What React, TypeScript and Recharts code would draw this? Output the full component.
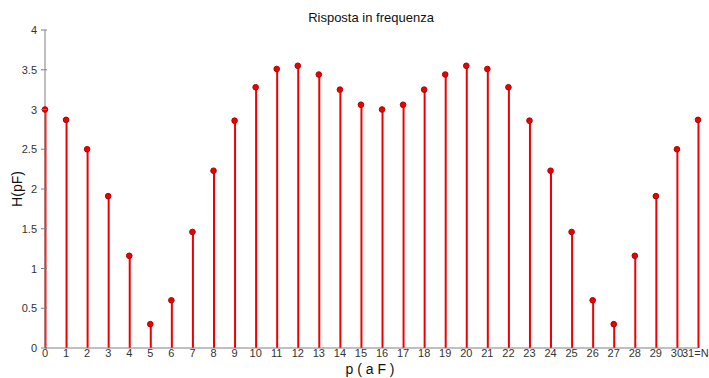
import { ComposedChart, Bar, Line, XAxis, YAxis } from "recharts";

const indices = [
  0, 1, 2, 3, 4, 5, 6, 7, 8, 9, 10, 11, 12, 13, 14, 15,
  16, 17, 18, 19, 20, 21, 22, 23, 24, 25, 26, 27, 28, 29, 30, 31,
];
const magnitudes = [
  3.0, 2.87, 2.5, 1.91, 1.16, 0.3, 0.6, 1.46, 2.23, 2.86, 3.28, 3.51, 3.55, 3.44, 3.25, 3.06,
  3.0, 3.06, 3.25, 3.44, 3.55, 3.51, 3.28, 2.86, 2.23, 1.46, 0.6, 0.3, 1.16, 1.91, 2.5, 2.87,
];
const yTicks = [0, 0.5, 1, 1.5, 2, 2.5, 3, 3.5, 4];
const lastLabel = "31=N-1";

const data = indices.map((p, i) => ({ p, h: magnitudes[i] }));

const FONT = "'Liberation Sans', Arial, sans-serif";
const AXIS = "#808080";
const RED = "#ee0000";

function YTick(props: any) {
  const { x, y, payload } = props;
  return (
    <g>
      <text x={x} y={y} dy={4} textAnchor="end" fontSize={11} fill="#333" fontFamily={FONT}>
        {payload.value}
      </text>
      <line x1={x + 4} x2={x + 10} y1={y} y2={y} stroke={AXIS} strokeWidth={1} />
    </g>
  );
}

function XTick(props: any) {
  const { x, y, payload } = props;
  const last = payload.value === 31;
  return (
    <text
      x={last ? x - 16 : x}
      y={y}
      dy={9}
      textAnchor={last ? "start" : "middle"}
      fontSize={11}
      fill="#333"
      fontFamily={FONT}
    >
      {last ? lastLabel : payload.value}
    </text>
  );
}

export default function App() {
  return (
    <div style={{ position: "absolute", left: 0, top: 0, width: 709, height: 378, background: "#fff" }}>
      <ComposedChart width={709} height={378} data={data} margin={{ top: 30, right: 11, left: 10, bottom: 0 }}>
        <text x={371} y={22} textAnchor="middle" fontSize={13} fill="#111" fontFamily={FONT}>
          Risposta in frequenza
        </text>
        <text x={370} y={374} textAnchor="middle" fontSize={14} fill="#111" fontFamily={FONT}>
          p ( a F )
        </text>
        <text
          x={22}
          y={189}
          textAnchor="middle"
          fontSize={14}
          fill="#111"
          fontFamily={FONT}
          transform="rotate(-90 22 189)"
        >
          H(pF)
        </text>
        <XAxis
          dataKey="p"
          type="number"
          domain={[0, 31]}
          ticks={indices}
          interval={0}
          height={30}
          stroke={AXIS}
          tickLine={false}
          tickSize={0}
          tickMargin={0}
          tick={<XTick />}
        />
        <YAxis
          type="number"
          domain={[0, 4]}
          ticks={yTicks}
          width={35}
          stroke={AXIS}
          tickLine={false}
          tick={<YTick />}
        />
        <Bar dataKey="h" barSize={2} fill={RED} isAnimationActive={false} />
        <Line
          dataKey="h"
          stroke="none"
          isAnimationActive={false}
          dot={{ r: 2.8, fill: RED, stroke: "#b00000", strokeWidth: 1, clipDot: false }}
          activeDot={false}
        />
      </ComposedChart>
    </div>
  );
}
